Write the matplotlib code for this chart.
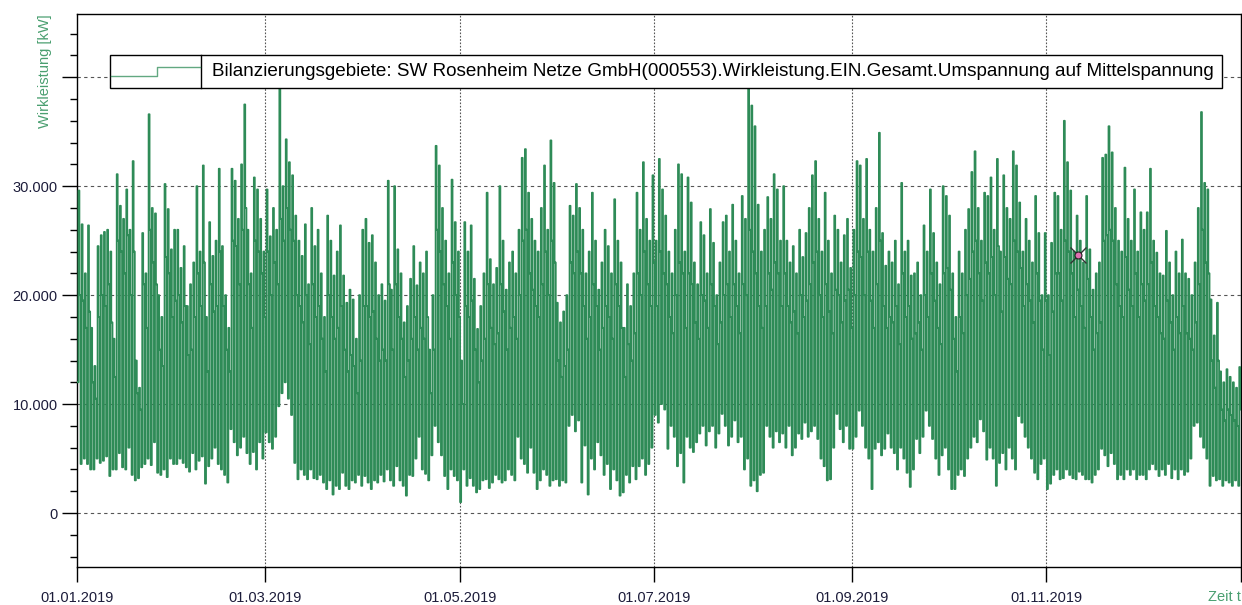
import numpy as np
import pandas as pd
import matplotlib
matplotlib.use("Agg")
import matplotlib.pyplot as plt
from matplotlib.lines import Line2D
from matplotlib.patches import Rectangle
from matplotlib.ticker import MultipleLocator

plt.rcParams['font.family'] = ['Liberation Sans', 'DejaVu Sans']

# ---- data: daily peak, evening level and night minimum, in 1000 kW ----
high_jan = [29.6, 26.5, 22.0, 26.4, 17.0, 13.5, 24.5, 25.5, 25.8, 26.0, 24.0, 16.0, 31.1, 28.2, 27.0, 29.7, 26.0, 32.3, 14.0, 11.5, 25.7, 22.0, 36.6, 28.0, 27.5, 20.0, 18.0, 30.2, 27.9, 24.2, 26.0]
high_feb = [26.0, 22.5, 24.5, 19.0, 21.0, 23.0, 30.0, 24.0, 31.9, 18.0, 26.7, 23.6, 25.0, 31.6, 24.5, 20.0, 17.0, 31.6, 30.5, 27.0, 32.0, 37.5, 26.0, 22.0, 30.8, 29.7, 27.0, 24.0]
high_mar = [29.7, 25.4, 28.0, 26.0, 39.3, 30.0, 34.3, 32.2, 31.0, 27.3, 25.0, 23.6, 26.5, 21.0, 28.0, 24.5, 26.0, 22.0, 18.0, 27.3, 25.0, 21.8, 24.0, 26.4, 21.8, 19.3, 20.5, 19.6, 16.0, 20.0, 26.0]
high_apr = [27.0, 24.8, 25.5, 23.0, 20.0, 21.0, 19.5, 30.5, 20.5, 30.0, 24.2, 22.0, 17.5, 19.0, 21.5, 24.5, 20.9, 23.0, 22.0, 24.0, 15.0, 20.0, 33.7, 31.9, 28.0, 25.0, 22.0, 30.6, 26.7, 24.0]
high_may = [14.0, 26.7, 24.0, 26.4, 21.5, 16.9, 19.0, 22.0, 29.4, 23.3, 21.0, 22.5, 30.0, 25.0, 20.5, 23.0, 24.0, 22.0, 26.0, 32.6, 33.4, 29.4, 27.0, 25.0, 24.0, 28.0, 31.9, 26.0, 34.2, 30.3, 19.3]
high_jun = [17.5, 18.5, 20.0, 28.2, 27.3, 30.2, 28.0, 26.0, 22.0, 24.0, 29.4, 25.0, 20.5, 23.0, 26.0, 24.5, 22.0, 28.8, 25.0, 23.0, 17.0, 21.0, 19.0, 22.0, 29.4, 26.0, 32.2, 27.0, 25.0, 31.0]
high_jul = [25.0, 32.5, 29.7, 27.3, 24.0, 22.0, 26.0, 32.0, 31.1, 24.0, 30.8, 28.5, 23.0, 21.0, 26.7, 25.5, 22.0, 27.9, 24.8, 20.0, 23.0, 26.7, 27.3, 24.0, 28.3, 25.0, 22.0, 29.1, 27.0, 39.2, 37.4]
high_aug = [35.5, 28.3, 24.0, 26.0, 29.0, 27.0, 31.1, 29.7, 25.0, 30.0, 25.0, 23.0, 24.5, 22.0, 26.0, 23.5, 25.7, 28.0, 31.0, 32.3, 27.0, 24.0, 29.4, 25.0, 22.0, 27.3, 26.0, 23.0, 25.5, 27.0, 22.5]
high_sep = [26.0, 32.3, 31.9, 27.0, 32.5, 26.0, 24.0, 28.0, 34.9, 25.7, 22.7, 24.0, 23.0, 25.0, 21.0, 30.3, 24.0, 25.0, 21.8, 22.0, 23.0, 20.0, 26.4, 24.0, 29.7, 25.7, 23.0, 21.0, 30.0, 29.1]
high_oct = [27.3, 22.0, 18.0, 24.0, 22.0, 26.0, 27.9, 31.3, 33.2, 28.0, 25.0, 29.4, 29.1, 30.8, 26.0, 32.5, 24.0, 31.0, 28.0, 27.0, 33.2, 31.9, 28.5, 24.0, 27.0, 25.0, 23.0, 29.1, 25.7, 20.0, 25.7]
high_nov = [20.0, 24.8, 29.4, 29.1, 26.0, 36.0, 32.2, 29.6, 24.0, 27.3, 25.0, 23.0, 29.1, 24.2, 20.5, 22.0, 23.0, 32.6, 32.9, 35.5, 33.1, 28.0, 25.0, 24.0, 31.7, 27.0, 25.0, 29.7, 24.0, 27.6]
high_dec = [26.0, 27.6, 31.6, 25.0, 23.9, 22.0, 21.8, 25.9, 23.0, 20.0, 24.0, 22.0, 25.1, 22.0, 21.5, 20.0, 23.0, 28.0, 36.8, 30.3, 29.7, 19.6, 16.3, 19.3, 13.0, 12.0, 13.2, 12.5, 12.0, 11.5, 13.4]

eve_jan = [20.0, 19.5, 17.0, 18.5, 12.0, 10.5, 18.0, 20.0, 19.0, 21.0, 17.5, 12.5, 25.0, 24.0, 22.0, 25.5, 20.0, 24.0, 11.0, 9.5, 21.0, 17.0, 26.0, 23.0, 21.0, 15.0, 13.5, 23.5, 22.0, 18.0, 19.5]
eve_feb = [20.0, 17.5, 19.0, 14.5, 15.0, 18.0, 22.0, 19.0, 23.0, 13.0, 21.0, 18.5, 19.0, 24.0, 19.0, 15.0, 13.0, 25.0, 24.5, 21.0, 26.0, 28.0, 21.0, 17.0, 25.0, 24.0, 22.0, 18.0]
eve_mar = [24.0, 20.0, 23.0, 21.0, 27.0, 25.0, 28.0, 26.0, 25.0, 20.0, 19.0, 17.5, 20.0, 15.5, 21.0, 18.0, 19.0, 16.0, 13.0, 20.0, 18.0, 16.0, 17.0, 19.0, 15.0, 13.0, 14.5, 13.5, 11.0, 14.0, 19.0]
eve_apr = [19.0, 18.0, 18.5, 16.0, 14.0, 15.0, 14.0, 21.0, 15.0, 21.0, 18.0, 16.0, 12.5, 14.0, 16.0, 18.0, 15.0, 17.0, 16.0, 18.0, 11.0, 15.0, 26.0, 24.0, 21.0, 19.0, 16.0, 23.0, 20.0, 18.0]
eve_may = [10.0, 19.0, 18.0, 19.5, 15.0, 12.0, 14.0, 16.0, 21.0, 17.0, 15.5, 16.5, 21.0, 18.5, 15.0, 17.0, 18.0, 16.0, 20.0, 25.0, 26.0, 22.0, 20.5, 19.0, 18.0, 21.0, 24.0, 20.0, 25.0, 23.0, 14.0]
eve_jun = [12.5, 13.5, 15.0, 23.0, 22.0, 24.0, 22.0, 19.0, 16.0, 18.0, 21.0, 19.0, 15.0, 17.0, 19.0, 18.0, 16.0, 21.0, 19.0, 17.0, 12.5, 15.5, 14.0, 16.5, 22.0, 20.0, 24.0, 21.0, 19.0, 23.0]
eve_jul = [19.0, 24.0, 22.0, 21.0, 18.0, 16.5, 20.0, 23.0, 22.0, 17.0, 22.0, 21.0, 17.5, 16.0, 20.0, 19.5, 17.0, 21.0, 19.0, 15.5, 17.5, 20.0, 21.0, 18.0, 21.0, 19.0, 16.5, 21.0, 20.0, 26.0, 24.0]
eve_aug = [22.0, 19.0, 17.0, 19.0, 22.0, 20.5, 23.0, 22.0, 19.0, 22.0, 19.0, 17.5, 18.5, 16.5, 20.0, 18.0, 19.5, 21.0, 23.0, 24.0, 20.0, 18.0, 21.0, 18.5, 16.5, 20.5, 20.0, 17.5, 19.5, 20.5, 17.0]
eve_sep = [20.0, 24.0, 23.5, 20.0, 24.0, 19.5, 17.0, 21.0, 25.0, 19.0, 17.0, 18.0, 17.5, 19.0, 15.5, 22.0, 18.0, 19.0, 16.0, 16.5, 17.5, 15.0, 20.0, 18.0, 22.0, 19.5, 17.0, 15.5, 22.0, 22.5]
eve_oct = [20.5, 16.0, 13.0, 18.0, 16.5, 20.0, 21.5, 24.0, 25.0, 22.0, 19.5, 23.0, 22.0, 23.5, 20.0, 24.5, 18.5, 23.5, 21.5, 21.0, 25.0, 24.0, 22.5, 19.0, 21.0, 19.5, 17.5, 22.0, 19.5, 15.0, 19.5]
eve_nov = [14.5, 18.5, 22.0, 22.0, 19.5, 25.0, 24.0, 22.0, 18.0, 20.5, 19.0, 17.0, 21.5, 18.0, 15.0, 16.5, 17.5, 25.0, 25.5, 26.0, 25.0, 21.0, 19.0, 18.0, 23.5, 20.5, 19.0, 22.0, 18.0, 21.0]
eve_dec = [19.5, 21.0, 23.0, 19.0, 18.0, 16.5, 16.0, 19.5, 17.5, 15.0, 18.0, 16.5, 19.0, 16.5, 16.0, 15.0, 17.5, 21.0, 26.0, 23.0, 22.0, 14.0, 11.5, 14.0, 9.5, 8.5, 9.5, 9.0, 8.5, 8.0, 9.5]

low_jan = [12.0, 4.5, 5.0, 4.5, 4.0, 4.0, 5.0, 4.6, 4.8, 5.2, 3.4, 4.0, 4.0, 5.5, 4.2, 4.0, 6.0, 3.5, 3.0, 3.2, 4.2, 4.5, 5.0, 4.4, 6.5, 3.7, 3.5, 4.0, 3.3, 5.0, 4.5]
low_feb = [4.5, 5.0, 4.6, 4.2, 3.8, 5.5, 4.0, 4.8, 5.2, 2.7, 4.3, 5.0, 6.0, 4.5, 4.0, 3.5, 2.8, 7.7, 6.5, 5.3, 6.0, 7.0, 5.5, 4.5, 5.6, 4.0, 6.5, 5.0]
low_mar = [7.4, 6.5, 5.9, 7.0, 9.8, 11.0, 12.0, 10.5, 9.0, 4.6, 3.1, 4.0, 3.5, 3.1, 4.0, 3.2, 3.1, 3.5, 2.8, 2.2, 3.0, 1.7, 2.5, 2.2, 3.7, 2.5, 2.2, 3.0, 2.8, 3.5, 2.5]
low_apr = [3.4, 2.8, 2.2, 3.0, 2.8, 3.5, 2.9, 4.0, 3.0, 2.5, 4.3, 3.0, 2.5, 1.6, 3.5, 3.4, 5.0, 7.0, 4.0, 3.6, 3.0, 5.3, 8.0, 6.5, 5.3, 3.4, 2.2, 4.0, 3.4, 3.0]
low_may = [1.0, 4.0, 2.5, 3.2, 2.5, 1.9, 2.2, 3.0, 3.1, 2.3, 2.8, 3.5, 3.1, 2.8, 3.0, 4.0, 3.5, 3.0, 7.0, 5.0, 4.5, 3.7, 6.0, 3.7, 2.2, 3.0, 4.0, 3.5, 2.5, 3.0, 3.1]
low_jun = [2.5, 3.0, 2.8, 8.0, 9.0, 7.5, 8.5, 2.8, 6.2, 1.7, 5.0, 4.0, 6.5, 5.3, 3.5, 4.5, 2.2, 4.0, 3.0, 1.6, 1.9, 3.5, 2.8, 4.3, 3.1, 4.3, 5.0, 3.5, 4.5, 6.0]
low_jul = [9.0, 8.3, 10.0, 9.5, 5.9, 8.0, 7.0, 4.3, 5.5, 2.8, 7.0, 6.0, 5.6, 6.5, 7.3, 8.0, 6.2, 7.5, 8.0, 6.0, 7.3, 9.1, 8.0, 6.2, 7.0, 8.5, 6.5, 7.0, 4.0, 5.0, 2.5]
low_aug = [3.0, 2.0, 3.5, 3.7, 8.0, 7.0, 6.0, 7.5, 6.5, 7.3, 6.0, 8.0, 5.3, 6.0, 7.3, 6.8, 8.3, 7.0, 7.5, 8.0, 6.8, 5.0, 4.3, 3.0, 3.1, 6.0, 9.1, 7.7, 6.5, 8.0, 5.9]
low_sep = [5.9, 7.0, 9.4, 8.0, 6.0, 5.0, 2.2, 5.9, 6.5, 5.3, 5.9, 7.3, 6.0, 5.5, 4.0, 6.0, 5.0, 3.7, 2.4, 4.0, 6.8, 5.5, 7.0, 9.4, 8.0, 6.8, 5.0, 3.5, 5.3, 6.0]
low_oct = [4.0, 2.2, 2.2, 3.5, 4.0, 3.4, 5.0, 6.0, 7.0, 6.5, 8.6, 7.5, 4.9, 6.0, 5.0, 2.5, 4.6, 5.5, 4.0, 6.0, 5.0, 4.0, 8.9, 8.3, 7.0, 6.0, 5.0, 3.7, 3.1, 4.5, 5.0]
low_nov = [2.2, 2.7, 3.5, 4.0, 3.1, 3.2, 4.0, 3.5, 3.2, 3.1, 3.8, 3.5, 3.1, 3.1, 2.8, 3.5, 4.0, 5.9, 5.3, 4.3, 5.5, 4.5, 3.1, 3.5, 3.1, 4.0, 3.5, 4.0, 3.1, 3.5]
low_dec = [3.5, 3.1, 4.0, 4.5, 4.0, 3.4, 4.0, 3.5, 4.5, 3.2, 4.0, 3.1, 4.0, 3.5, 3.8, 5.0, 8.0, 8.3, 7.0, 6.0, 5.0, 2.5, 3.4, 3.0, 3.1, 2.5, 3.0, 2.8, 2.5, 3.0, 2.5]

cursor_time = "2019-11-10 19:00"
cursor_value = 23700

series_label = "Bilanzierungsgebiete: SW Rosenheim Netze GmbH(000553).Wirkleistung.EIN.Gesamt.Umspannung auf Mittelspannung"
x_tick_dates = ["2019-01-01", "2019-03-01", "2019-05-01", "2019-07-01", "2019-09-01", "2019-11-01", "2020-01-01"]
x_tick_labels = ["01.01.2019", "01.03.2019", "01.05.2019", "01.07.2019", "01.09.2019", "01.11.2019", ""]
y_major = [0, 10000, 20000, 30000, 40000]
y_labels = {0: "0", 10000: "10.000", 20000: "20.000", 30000: "30.000"}

# ---- assemble time series ----
def join(*parts):
    out = []
    for p in parts:
        out += p
    return np.array(out) * 1000

highs = join(high_jan, high_feb, high_mar, high_apr, high_may, high_jun,
             high_jul, high_aug, high_sep, high_oct, high_nov, high_dec)
eves = join(eve_jan, eve_feb, eve_mar, eve_apr, eve_may, eve_jun,
            eve_jul, eve_aug, eve_sep, eve_oct, eve_nov, eve_dec)
lows = join(low_jan, low_feb, low_mar, low_apr, low_may, low_jun,
            low_jul, low_aug, low_sep, low_oct, low_nov, low_dec)
days = pd.date_range("2019-01-01", periods=len(highs), freq="D")
n = len(days)
times = np.empty(3 * n, dtype="datetime64[ns]")
vals = np.empty(3 * n)
times[0::3] = (days + pd.Timedelta(hours=3)).values
times[1::3] = (days + pd.Timedelta(hours=11)).values
times[2::3] = (days + pd.Timedelta(hours=18)).values
vals[0::3] = lows
vals[1::3] = highs
vals[2::3] = eves

GREEN = "#2e8b57"
LABEL_GREEN = "#4a9f70"
TEXT = "#1c1c3a"

fig = plt.figure(figsize=(12.42, 6.05), dpi=100)
W, H = 1242, 605
ax = fig.add_axes([77 / W, 38 / H, 1164 / W, 553 / H])

ax.plot(times, vals, color=GREEN, lw=1.3, drawstyle="steps-post", zorder=3)

ax.set_xlim(pd.Timestamp("2019-01-01"), pd.Timestamp("2020-01-01"))
ax.set_ylim(-4950, 45800)

# grid
for yv in y_major:
    ax.axhline(yv, color="#555555", lw=0.8, ls=(0, (3, 3)), zorder=1)
for d in x_tick_dates[1:-1]:
    ax.axvline(pd.Timestamp(d), color="#555555", lw=0.8, ls=(0, (1.5, 1.5)), zorder=1)

# ticks
ax.set_yticks(y_major)
ax.set_yticklabels([y_labels.get(v, "") for v in y_major])
ax.yaxis.set_minor_locator(MultipleLocator(2000))
ax.tick_params(axis="y", which="major", length=11, width=1, direction="out", pad=3,
               labelsize=10.5, labelcolor=TEXT)
ax.tick_params(axis="y", which="minor", length=5, width=1, direction="out")
ax.set_xticks([pd.Timestamp(d) for d in x_tick_dates])
ax.set_xticklabels(x_tick_labels)
ax.tick_params(axis="x", which="major", length=11, width=1, direction="out", pad=6,
               labelsize=10.5, labelcolor=TEXT)
for s in ax.spines.values():
    s.set_linewidth(1.0)
    s.set_color("black")

# axis titles
fig.text(45 / W, 1 - 14 / H, "Wirkleistung [kW]", rotation=90, ha="center", va="top",
         fontsize=10.5, color=LABEL_GREEN)
fig.text(1241 / W, 1 - 597 / H, "Zeit t", ha="right", va="center",
         fontsize=10.5, color=LABEL_GREEN)

# cursor marker
ax.plot([pd.Timestamp(cursor_time)], [cursor_value], marker="x", ms=11, mew=1.0,
        color="#333333", zorder=5, ls="none")
ax.plot([pd.Timestamp(cursor_time)], [cursor_value], marker="o", ms=5, mew=0.8,
        mfc="#e070b0", mec="#222222", zorder=6, ls="none")

# custom legend box
lx0, lx1, ly0, ly1 = 110, 1222, 55, 88
fig.patches.append(Rectangle((lx0 / W, 1 - ly1 / H), (lx1 - lx0) / W, (ly1 - ly0) / H,
                             transform=fig.transFigure, facecolor="white",
                             edgecolor="black", lw=1.0, zorder=10))
fig.lines.append(Line2D([201 / W, 201 / W], [1 - ly1 / H, 1 - ly0 / H],
                        transform=fig.transFigure, color="black", lw=1.0, zorder=11))
fig.lines.append(Line2D([111 / W, 157 / W, 157 / W, 200 / W],
                        [1 - 76 / H, 1 - 76 / H, 1 - 66.5 / H, 1 - 66.5 / H],
                        transform=fig.transFigure, color=GREEN, lw=1.0, alpha=0.75, zorder=11))
fig.text(212 / W, 1 - 71.5 / H, series_label, ha="left", va="center", fontsize=13.6,
         color="black", zorder=12)

fig.savefig("out.png", dpi=100)
